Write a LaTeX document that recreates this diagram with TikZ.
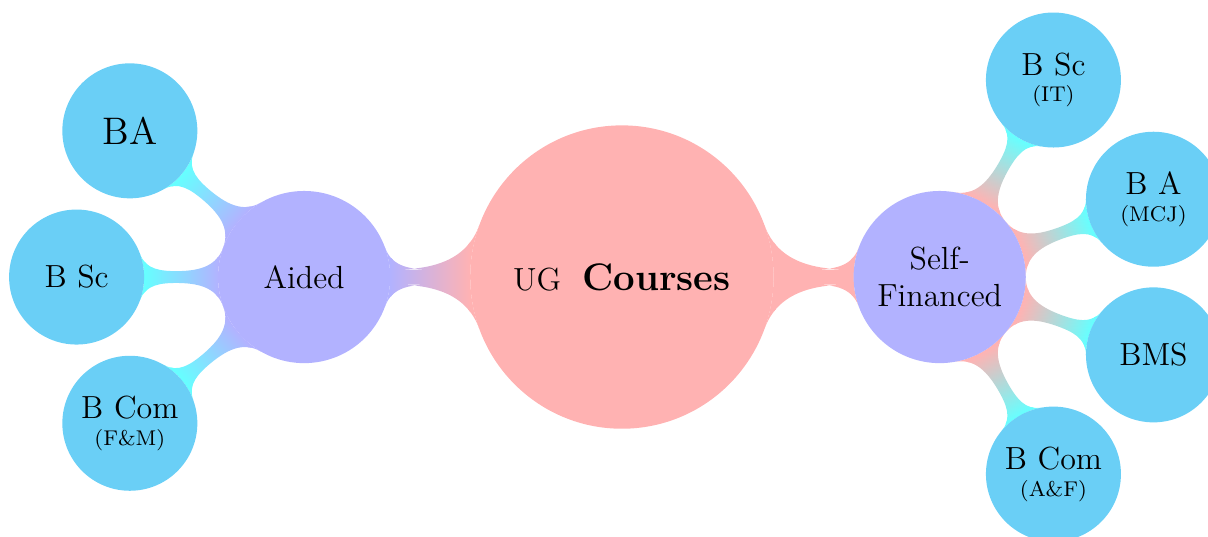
\documentclass[tikz,border=0pt]{standalone}
\usetikzlibrary{mindmap,backgrounds}

\definecolor{leafblue}{RGB}{106,207,246}
\definecolor{leafbar}{RGB}{102,255,255}

\begin{document}
\begin{tikzpicture}[mindmap]
	\tikzstyle{every node}=[circle, text=black, align=center, inner sep=0pt]
	\tikzstyle{stream}=[fill=blue!30, minimum size=2.27cm, text width=2cm, font=\large]
	\tikzstyle{degree}=[fill=leafblue, minimum size=1.78cm, text width=1.6cm, font=\large]

	\useasboundingbox (-8.2, -3.416) rectangle (7.728, 3.653);

	// ug courses
	\node[fill=red!30, minimum size=4cm, text width=3.6cm, font=\large](UG) at (0, 0) {UG~~\textbf{\Large Courses}};

	// aided
	\node[stream](Aided) at (-4.19, 0) {Aided};
	\node[degree](Aided_BA) at (-6.488, 1.928) {\Large BA};
	\node[degree](Aided_BSc) at (-7.19, 0) {B Sc};
	\node[degree](Aided_BCom) at (-6.488, -1.928) {B Com\\[-4pt]\footnotesize (F\&M)};

	// self-financed
	\node[stream](SelfFin) at (4.19, 0) {Self-\\Financed};
	\node[degree](SelfFin_BSc) at (5.69, 2.598) {B Sc\\[-4pt]\footnotesize (IT)};
	\node[degree](SelfFin_BA) at (7.009, 1.026) {B A\\[-4pt]\footnotesize (MCJ)};
	\node[degree](SelfFin_BMS) at (7.009, -1.026) {BMS};
	\node[degree](SelfFin_BCom) at (5.69, -2.598) {B Com\\[-4pt]\footnotesize (A\&F)};

	// bars
	\begin{scope}[on background layer]
		// ug - streams
		\path (UG) to[circle connection bar switch color=from (red!30) to (blue!30)] (Aided);
		\path (UG) to[circle connection bar switch color=from (red!30) to (red!30)] (SelfFin);
		// aided - degrees
		\path (Aided) to[circle connection bar switch color=from (blue!30) to (leafbar)] (Aided_BA);
		\path (Aided) to[circle connection bar switch color=from (blue!30) to (leafbar)] (Aided_BSc);
		\path (Aided) to[circle connection bar switch color=from (blue!30) to (leafbar)] (Aided_BCom);
		// self-financed - degrees
		\path (SelfFin) to[circle connection bar switch color=from (red!30) to (leafbar)] (SelfFin_BSc);
		\path (SelfFin) to[circle connection bar switch color=from (red!30) to (leafbar)] (SelfFin_BA);
		\path (SelfFin) to[circle connection bar switch color=from (red!30) to (leafbar)] (SelfFin_BMS);
		\path (SelfFin) to[circle connection bar switch color=from (red!30) to (leafbar)] (SelfFin_BCom);
	\end{scope}
\end{tikzpicture}
\end{document}
